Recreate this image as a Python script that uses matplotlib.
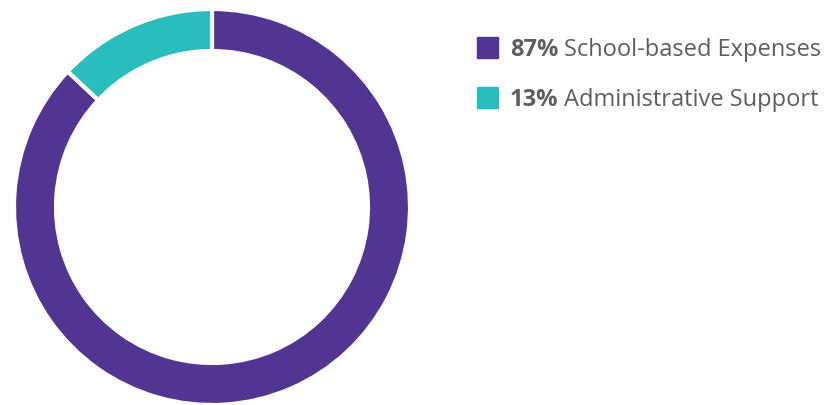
import matplotlib
matplotlib.use("Agg")
import matplotlib.pyplot as plt
from matplotlib.patches import Rectangle

# data
labels = ["School-based Expenses", "Administrative Support"]
shares = [87, 13]
colors = ["#523593", "#29bdbe"]

W, H = 834, 405
fig = plt.figure(figsize=(W / 100, H / 100), dpi=100)

# donut axes, square in pixels
cx, cy, r = 212, 207, 198
ax = fig.add_axes([(cx - r) / W, (H - cy - r) / H, 2 * r / W, 2 * r / H])
ax.pie(shares, colors=colors, startangle=90, counterclock=False,
       radius=1, wedgeprops=dict(width=42 / r, edgecolor="white", linewidth=3))
ax.set_xlim(-1, 1)
ax.set_ylim(-1, 1)
ax.set_aspect("equal")
ax.axis("off")

# legend drawn by hand
txt_color = "#5e5e5e"
sq = 21
rows_y = [47, 97]  # centre of each row, px from top
fig.canvas.draw()
renderer = fig.canvas.get_renderer()
for lab, val, col, yc in zip(labels, shares, colors, rows_y):
    fig.add_artist(Rectangle((477 / W, (H - yc - sq / 2) / H), sq / W, sq / H,
                             transform=fig.transFigure, color=col))
    t1 = fig.text(510 / W, (H - yc) / H, f"{val}%", fontsize=17, fontweight="bold",
                  family="Open Sans", color=txt_color, va="center_baseline")
    bb = t1.get_window_extent(renderer)
    fig.text((bb.x1 + 6) / W, (H - yc) / H, lab, fontsize=17, fontweight="normal",
             family="Open Sans", color=txt_color, va="center_baseline")

fig.savefig("out.png", dpi=100)
